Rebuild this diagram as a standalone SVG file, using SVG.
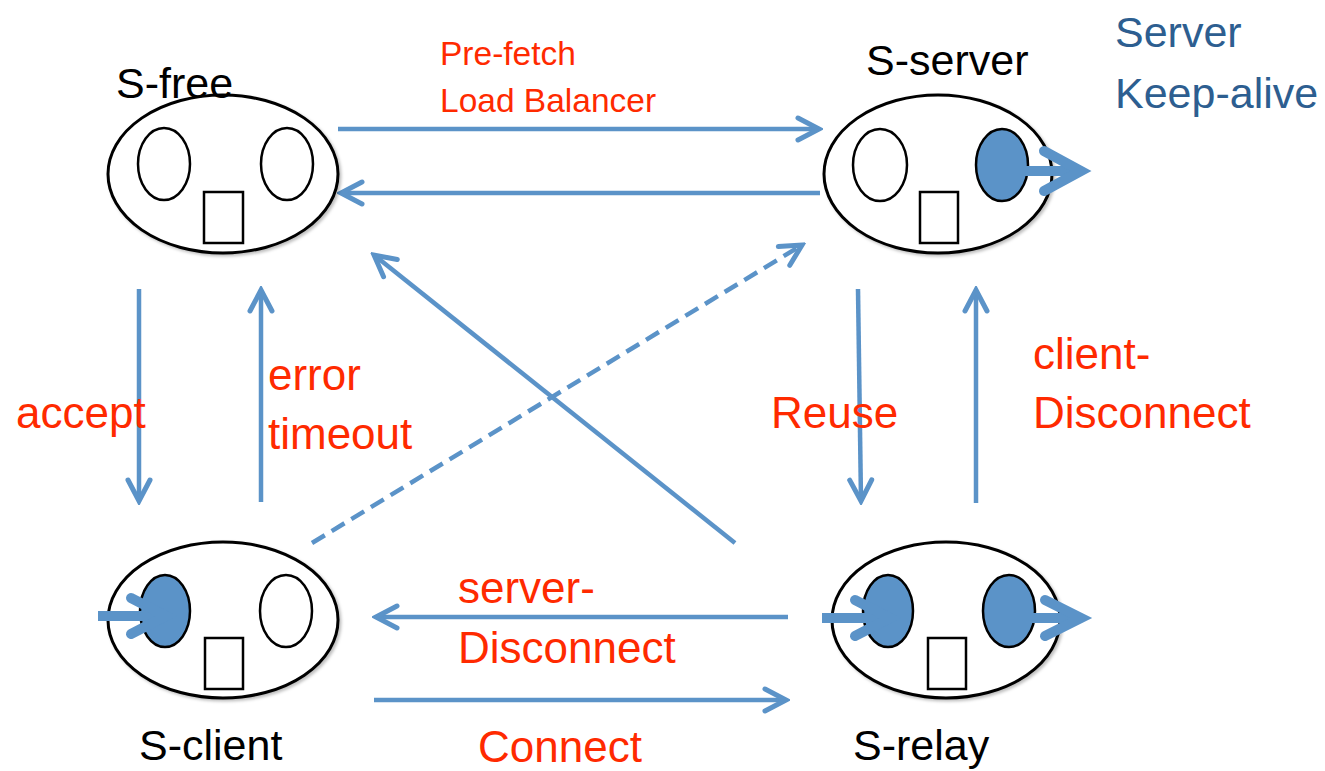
<svg xmlns="http://www.w3.org/2000/svg" width="1325" height="771" viewBox="0 0 1325 771">
<style>
.face{fill:#ffffff;stroke:#000000;stroke-width:3}
.eye{fill:#ffffff;stroke:#000000;stroke-width:2.5}
.eyeOn{fill:#5B93C8;stroke:#000000;stroke-width:2.5}
.mouth{fill:#ffffff;stroke:#000000;stroke-width:2.5}
.conn{fill:none;stroke:#5B93C8;stroke-width:4.5;marker-end:url(#chev)}
.dash{stroke-dasharray:15 8}
.thick{fill:none;stroke:#5B93C8;stroke-width:10;stroke-linecap:butt}
.head{fill:none;stroke:#5B93C8;stroke-width:10;stroke-linecap:round;stroke-linejoin:miter;stroke-miterlimit:4}
.node{font-family:"Liberation Sans",Arial,sans-serif;font-size:43px;fill:#000000}
.lab{font-family:"Liberation Sans",Arial,sans-serif;font-size:44px;fill:#FF2A00}
.small{font-size:33.5px}
.note{font-family:"Liberation Sans",Arial,sans-serif;font-size:43px;fill:#2D5E90}
</style>
<defs>
<marker id="chev" markerUnits="userSpaceOnUse" viewBox="-30 -16 34 32" refX="0" refY="0" markerWidth="34" markerHeight="32" orient="auto">
<path d="M-21,-11 L0,0 L-21,11" fill="none" stroke="#5B93C8" stroke-width="5" stroke-linecap="round" stroke-linejoin="miter"/>
</marker>
<filter id="sh" x="-10%" y="-10%" width="125%" height="130%">
<feDropShadow dx="2" dy="2" stdDeviation="1.5" flood-color="#000000" flood-opacity="0.25"/>
</filter>
</defs>
<rect x="0" y="0" width="1325" height="771" fill="#ffffff"/>

<g id="connectors">
<line class="conn" x1="338" y1="129" x2="819" y2="129"/>
<line class="conn" x1="820" y1="193" x2="341" y2="193"/>
<line class="conn" x1="139" y1="289" x2="139" y2="501"/>
<line class="conn" x1="261" y1="502" x2="261" y2="290"/>
<line class="conn dash" x1="312" y1="543" x2="802" y2="245"/>
<line class="conn" x1="735" y1="543" x2="374" y2="255"/>
<line class="conn" x1="858" y1="289" x2="861" y2="501"/>
<line class="conn" x1="976" y1="503" x2="976" y2="290"/>
<line class="conn" x1="788" y1="617" x2="376" y2="617"/>
<line class="conn" x1="374" y1="700" x2="786" y2="700"/>
</g>

<g id="s-free">
<ellipse class="face" cx="223" cy="174" rx="115" ry="79" filter="url(#sh)"/>
<ellipse class="eye" cx="164" cy="164" rx="26" ry="36"/>
<ellipse class="eye" cx="287" cy="164" rx="26" ry="36"/>
<rect class="mouth" x="204" y="192" width="39" height="51"/>
<text class="node" x="116" y="98">S-free</text>
</g>

<g id="s-server">
<ellipse class="face" cx="938" cy="174" rx="114" ry="79" filter="url(#sh)"/>
<ellipse class="eye" cx="880" cy="165" rx="27" ry="36"/>
<ellipse class="eyeOn" cx="1002" cy="165" rx="26" ry="36"/>
<rect class="mouth" x="920" y="192" width="38" height="51"/>
<line class="thick" x1="1014" y1="171" x2="1078" y2="171"/>
<path class="head" d="M1044,151 L1081,171 L1044,191"/>
<text class="node" x="866" y="75">S-server</text>
</g>

<g id="s-client">
<ellipse class="face" cx="223" cy="620" rx="115" ry="78" filter="url(#sh)"/>
<ellipse class="eyeOn" cx="165" cy="611" rx="25" ry="36"/>
<ellipse class="eye" cx="286" cy="611" rx="26" ry="36"/>
<rect class="mouth" x="205" y="638" width="38" height="51"/>
<line class="thick" x1="98" y1="616" x2="163" y2="616"/>
<path class="head" d="M131,598 L166,616 L131,634"/>
<text class="node" x="139" y="760">S-client</text>
</g>

<g id="s-relay">
<ellipse class="face" cx="946" cy="620" rx="114" ry="78" filter="url(#sh)"/>
<ellipse class="eyeOn" cx="888" cy="611" rx="25" ry="36"/>
<ellipse class="eyeOn" cx="1009" cy="611" rx="26" ry="36"/>
<rect class="mouth" x="928" y="638" width="38" height="51"/>
<line class="thick" x1="822" y1="618" x2="887" y2="618"/>
<path class="head" d="M855,600 L890,618 L855,636"/>
<line class="thick" x1="1013" y1="618" x2="1078" y2="618"/>
<path class="head" d="M1045,600 L1081,618 L1045,636"/>
<text class="node" x="853" y="760">S-relay</text>
</g>

<g id="labels">
<text class="lab small" x="440" y="65">Pre-fetch</text>
<text class="lab small" x="440" y="112">Load Balancer</text>
<text class="note" x="1115" y="47">Server</text>
<text class="note" x="1115" y="108">Keep-alive</text>
<text class="lab" x="16" y="428">accept</text>
<text class="lab" x="268" y="390">error</text>
<text class="lab" x="268" y="449">timeout</text>
<text class="lab" x="771" y="428">Reuse</text>
<text class="lab" x="1033" y="369">client-</text>
<text class="lab" x="1033" y="428">Disconnect</text>
<text class="lab" x="458" y="603">server-</text>
<text class="lab" x="458" y="663">Disconnect</text>
<text class="lab" x="478" y="762">Connect</text>
</g>
</svg>
